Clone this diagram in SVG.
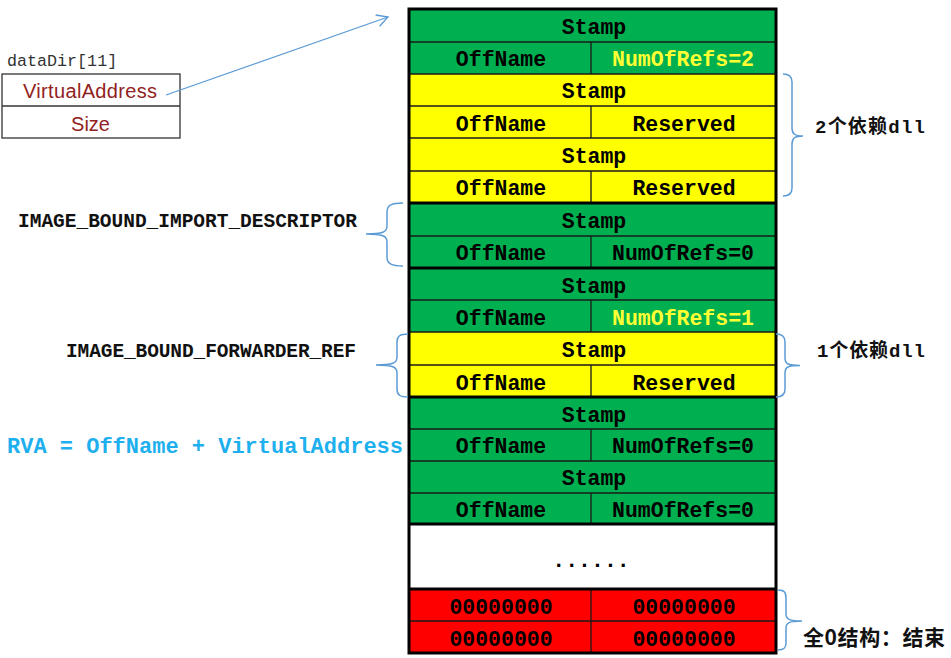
<svg xmlns="http://www.w3.org/2000/svg" width="951" height="658" viewBox="0 0 951 658">
<style>
.g{fill:#00B050}
.y{fill:#FFFF00}
.r{fill:#FF0000}
.w{fill:#FFFFFF}
.cell{font-family:"Liberation Mono","Noto Sans CJK SC",monospace;font-weight:bold;font-size:21.5px;fill:#000;text-anchor:middle}
.hi{fill:#FFFF33}
.thin{stroke:#1a1a1a;stroke-width:1.3;fill:none}
.thick{stroke:#000;stroke-width:3;fill:none}
.lbl{font-family:"Liberation Mono",monospace;font-weight:bold;font-size:19.5px;fill:#111}
.cn{font-family:"Liberation Mono","Noto Sans CJK SC",sans-serif;font-weight:bold;font-size:19px;fill:#111}
.brace{stroke:#5B9BD5;stroke-width:1.5;fill:none}
.dd{font-family:"Liberation Sans",Arial,sans-serif;font-size:20px;fill:#922222;text-anchor:middle}
</style>
<defs>
<marker id="open" markerWidth="14" markerHeight="14" refX="12" refY="7" orient="auto" markerUnits="userSpaceOnUse">
<path d="M1,1 L12,7 L1,13" fill="none" stroke="#5B9BD5" stroke-width="1.3"/>
</marker>
</defs>

<g id="datadir">
<text x="7" y="66" font-family="Liberation Mono,monospace" font-size="16.7px" fill="#333">dataDir[11]</text>
<rect x="2" y="74" width="178" height="64" fill="#fff" stroke="#333" stroke-width="1.3"/>
<line x1="2" y1="106" x2="180" y2="106" stroke="#333" stroke-width="1.3"/>
<text class="dd" x="90" y="98" textLength="134">VirtualAddress</text>
<text class="dd" x="90.5" y="131">Size</text>
</g>

<g id="desc1">
<rect class="g" x="409" y="9" width="367" height="65"/>
<rect class="y" x="409" y="74" width="367" height="129"/>
<line class="thin" x1="409" y1="42" x2="776" y2="42"/>
<line class="thin" x1="409" y1="74" x2="776" y2="74"/>
<line class="thin" x1="409" y1="106" x2="776" y2="106"/>
<line class="thin" x1="409" y1="138" x2="776" y2="138"/>
<line class="thin" x1="409" y1="171" x2="776" y2="171"/>
<line class="thin" x1="591" y1="42" x2="591" y2="74"/>
<line class="thin" x1="591" y1="106" x2="591" y2="138"/>
<line class="thin" x1="591" y1="171" x2="591" y2="203"/>
<text class="cell" x="594" y="34">Stamp</text>
<text class="cell" x="501" y="66">OffName</text>
<text class="cell hi" x="683" y="66">NumOfRefs=2</text>
<text class="cell" x="594" y="98">Stamp</text>
<text class="cell" x="501" y="131">OffName</text>
<text class="cell" x="684" y="131">Reserved</text>
<text class="cell" x="594" y="163">Stamp</text>
<text class="cell" x="501" y="195">OffName</text>
<text class="cell" x="684" y="195">Reserved</text>
</g>

<g id="desc2">
<rect class="g" x="409" y="203" width="367" height="65"/>
<line class="thin" x1="409" y1="236" x2="776" y2="236"/>
<line class="thin" x1="591" y1="236" x2="591" y2="268"/>
<text class="cell" x="594" y="228">Stamp</text>
<text class="cell" x="501" y="260">OffName</text>
<text class="cell" x="683" y="260">NumOfRefs=0</text>
</g>

<g id="desc3">
<rect class="g" x="409" y="268" width="367" height="64"/>
<rect class="y" x="409" y="332" width="367" height="65"/>
<line class="thin" x1="409" y1="300" x2="776" y2="300"/>
<line class="thin" x1="409" y1="332" x2="776" y2="332"/>
<line class="thin" x1="409" y1="365" x2="776" y2="365"/>
<line class="thin" x1="591" y1="300" x2="591" y2="332"/>
<line class="thin" x1="591" y1="365" x2="591" y2="397"/>
<text class="cell" x="594" y="293">Stamp</text>
<text class="cell" x="501" y="325">OffName</text>
<text class="cell hi" x="683" y="325">NumOfRefs=1</text>
<text class="cell" x="594" y="357">Stamp</text>
<text class="cell" x="501" y="390">OffName</text>
<text class="cell" x="684" y="390">Reserved</text>
</g>

<g id="desc4">
<rect class="g" x="409" y="397" width="367" height="127"/>
<line class="thin" x1="409" y1="429" x2="776" y2="429"/>
<line class="thin" x1="409" y1="461" x2="776" y2="461"/>
<line class="thin" x1="409" y1="493" x2="776" y2="493"/>
<line class="thin" x1="591" y1="429" x2="591" y2="461"/>
<line class="thin" x1="591" y1="493" x2="591" y2="524"/>
<text class="cell" x="594" y="422">Stamp</text>
<text class="cell" x="501" y="453">OffName</text>
<text class="cell" x="683" y="453">NumOfRefs=0</text>
<text class="cell" x="594" y="485">Stamp</text>
<text class="cell" x="501" y="517">OffName</text>
<text class="cell" x="683" y="517">NumOfRefs=0</text>
</g>

<g id="ellipsis">
<rect class="w" x="409" y="524" width="367" height="65"/>
<text class="cell" x="591" y="567">......</text>
</g>

<g id="zero">
<rect class="r" x="409" y="589" width="367" height="64"/>
<line class="thin" x1="409" y1="621" x2="776" y2="621"/>
<line class="thin" x1="591" y1="589" x2="591" y2="653"/>
<text class="cell" x="501" y="614">00000000</text>
<text class="cell" x="684" y="614">00000000</text>
<text class="cell" x="501" y="646">00000000</text>
<text class="cell" x="684" y="646">00000000</text>
</g>

<g id="borders">
<line class="thick" x1="409" y1="203" x2="776" y2="203"/>
<line class="thick" x1="409" y1="268" x2="776" y2="268"/>
<line class="thick" x1="409" y1="397" x2="776" y2="397"/>
<line class="thick" x1="409" y1="524" x2="776" y2="524"/>
<line class="thick" x1="409" y1="589" x2="776" y2="589"/>
<rect class="thick" x="409" y="9" width="367" height="644"/>
</g>

<g id="labels">
<text class="lbl" x="18" y="227" textLength="339">IMAGE_BOUND_IMPORT_DESCRIPTOR</text>
<text class="lbl" x="66" y="357" textLength="290">IMAGE_BOUND_FORWARDER_REF</text>
<text x="7" y="453" font-family="Liberation Mono,monospace" font-weight="bold" font-size="22px" fill="#1EB0EE" textLength="396">RVA = OffName + VirtualAddress</text>
<text class="cn" x="815" y="133" textLength="110">2个依赖dll</text>
<text class="cn" x="817" y="357" textLength="108">1个依赖dll</text>
<text x="803" y="645" font-family="Noto Sans CJK SC,sans-serif" font-weight="bold" font-size="21px" fill="#111" textLength="142">全0结构：结束</text>
</g>

<g id="connectors">
<line x1="166" y1="95" x2="388" y2="17" stroke="#5B9BD5" stroke-width="1.3" marker-end="url(#open)"/>
<path class="brace" d="M403,203 C392,203 387,205 387,212 L387,226 C387,232 383,234 366,234 C383,234 387,236 387,242 L387,257 C387,264 392,266 403,266"/>
<path class="brace" d="M408,334 C400,334 397,336 397,342 L397,357 C397,363 393,365 376,365 C393,365 397,367 397,373 L397,389 C397,395 400,397 408,397"/>
<path class="brace" d="M783,74 C789,74 792,76 792,82 L792,128 C792,134 795,136 803,136 C795,136 792,138 792,144 L792,188 C792,194 789,196 783,196"/>
<path class="brace" d="M776,334 C782,334 785,336 785,342 L785,358 C785,364 788,365.5 800,365.5 C788,365.5 785,367 785,373 L785,389 C785,395 782,397 776,397"/>
<path class="brace" d="M778,590 C784,590 786,592 786,598 L786,614 C786,619 789,621 802,621 C789,621 786,623 786,628 L786,643 C786,648 784,650 778,650"/>
</g>
</svg>
